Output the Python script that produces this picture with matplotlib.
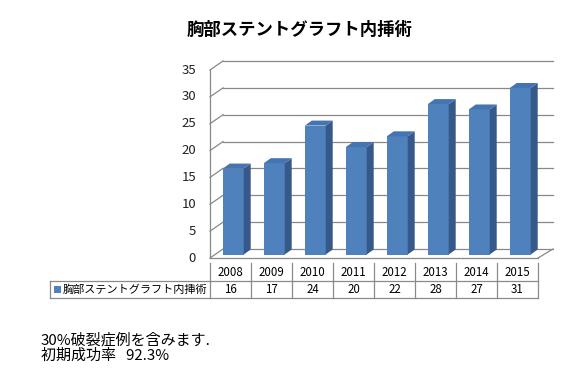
import matplotlib
matplotlib.use("Agg")
import matplotlib.pyplot as plt
from matplotlib.patches import Polygon, Rectangle

title = "胸部ステントグラフト内挿術"
series_name = "胸部ステントグラフト内挿術"
years = ["2008", "2009", "2010", "2011", "2012", "2013", "2014", "2015"]
counts = [16, 17, 24, 20, 22, 28, 27, 31]
yticks = [0, 5, 10, 15, 20, 25, 30, 35]
notes = ["30%破裂症例を含みます.", "初期成功率   92.3%"]

plt.rcParams['font.family'] = ['Noto Sans CJK JP', 'DejaVu Sans']

W, H = 587, 382
fig = plt.figure(figsize=(W / 100, H / 100), dpi=100)
fig.patch.set_facecolor('white')

# front plane of the 3-D plot area (pixel box)
x0, x1 = 210, 538
yb, yt = 258, 70
ax = fig.add_axes([x0 / W, 1 - yb / H, (x1 - x0) / W, (yb - yt) / H])
n = len(years)
ax.set_xlim(-0.5, n - 0.5)
ax.set_ylim(0, yticks[-1])
ax.axis('off')

pxc = (x1 - x0) / n
pxv = (yb - yt) / yticks[-1]
def dx(p): return p / pxc
def dy(p): return p / pxv

grid_c = '#888888'
WX, WY = dx(13), dy(9)
xl, xr = -0.5, n - 0.5

# walls / gridlines
for v in yticks:
    ax.plot([xl, xl + WX], [v, v + WY], color=grid_c, lw=0.9, clip_on=False, zorder=1)
    ax.plot([xl + WX, xr + WX + dx(2)], [v + WY, v + WY], color=grid_c, lw=0.9, clip_on=False, zorder=1)
ax.plot([xl, xl], [0, yticks[-1]], color=grid_c, lw=0.9, clip_on=False, zorder=1)
ax.plot([xl, xr], [0, 0], color=grid_c, lw=0.9, clip_on=False, zorder=1)
ax.plot([xr, xr + WX + dx(2)], [0, WY], color=grid_c, lw=0.9, clip_on=False, zorder=1)

# bars
front_c, side_c, top_c = '#4F81BD', '#36598A', '#4574B2'
BW = 0.51
FX, FY = dx(2.75), dy(3.5)
BX, BY = dx(7), dy(5)
xs = [i + FX for i in range(n)]
ax.bar(xs, counts, width=BW, bottom=FY, color=front_c, edgecolor='none', zorder=3, clip_on=False)
for i, v in enumerate(counts):
    left = xs[i] - BW / 2
    right = left + BW
    bot, top = FY, FY + v
    ax.add_patch(Polygon([(right, bot), (right + BX, bot + BY), (right + BX, top + BY), (right, top)],
                         closed=True, facecolor=side_c, edgecolor='none', zorder=3, clip_on=False))
    ax.add_patch(Polygon([(left, top), (right, top), (right + BX, top + BY), (left + BX, top + BY)],
                         closed=True, facecolor=top_c, edgecolor='none', zorder=3, clip_on=False))

# y tick labels
for v in yticks:
    ax.text(xl - dx(14), v, str(v), ha='right', va='center', fontsize=9.5, color='#222222', clip_on=False)

# data table
tab_c = '#8a8a8a'
r_top, r_mid, r_bot = -dy(263 - yb), -dy(281 - yb), -dy(298 - yb)
lab_left = xl - dx(x0 - 50)
for k in range(n + 1):
    ax.plot([xl + k, xl + k], [r_top, r_bot], color=tab_c, lw=0.9, clip_on=False)
ax.plot([lab_left, xr], [r_mid, r_mid], color=tab_c, lw=0.9, clip_on=False)
ax.plot([lab_left, xr], [r_bot, r_bot], color=tab_c, lw=0.9, clip_on=False)
ax.plot([lab_left, lab_left], [r_mid, r_bot], color=tab_c, lw=0.9, clip_on=False)
for i in range(n):
    ax.text(i, (r_top + r_mid) / 2, years[i], ha='center', va='center', fontsize=8.3, clip_on=False)
    ax.text(i, (r_mid + r_bot) / 2, str(counts[i]), ha='center', va='center', fontsize=8.3, clip_on=False)
ax.add_patch(Rectangle((lab_left + dx(4), (r_mid + r_bot) / 2 - dy(3.5)), dx(7), dy(7),
                       facecolor=front_c, edgecolor='none', clip_on=False))
ax.text(lab_left + dx(13), (r_mid + r_bot) / 2, series_name, ha='left', va='center', fontsize=8, clip_on=False)

# title and notes
fig.text(300 / W, 1 - 30 / H, title, ha='center', va='center', fontsize=12.5, fontweight='bold')
fig.text(41 / W, 1 - 340 / H, notes[0], ha='left', va='center', fontsize=10.8)
fig.text(41 / W, 1 - 356 / H, notes[1], ha='left', va='center', fontsize=10.8)

fig.savefig('out.png', dpi=100, facecolor='white')
